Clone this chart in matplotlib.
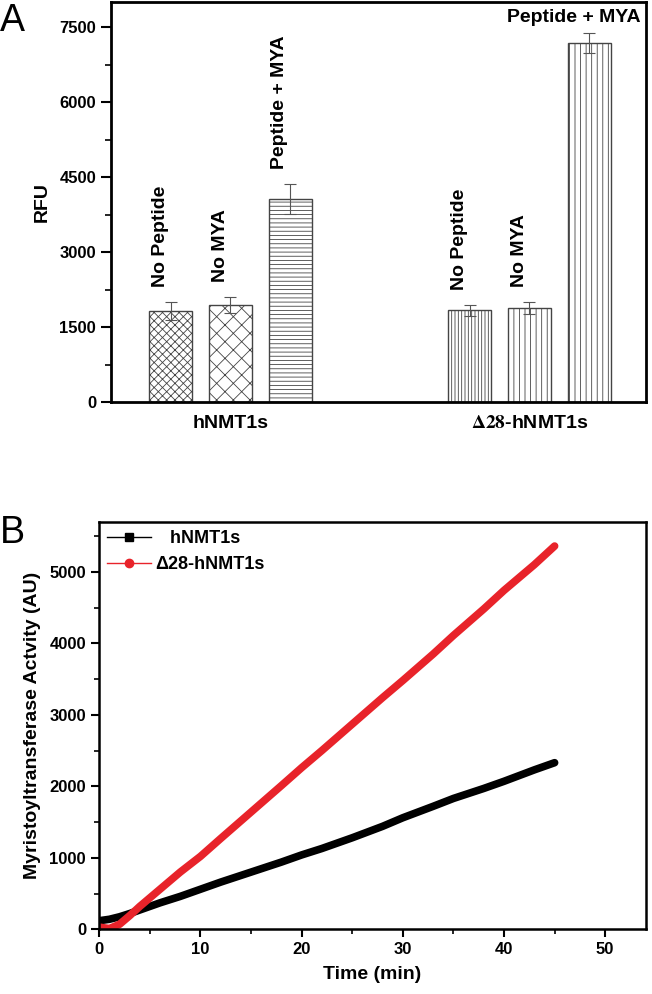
import matplotlib
matplotlib.use("Agg")
import matplotlib.pyplot as plt
from matplotlib.lines import Line2D
from matplotlib.ticker import MultipleLocator

plt.rcParams['font.family'] = ['Liberation Sans', 'DejaVu Sans']
plt.rcParams['font.weight'] = 'bold'
plt.rcParams['axes.labelweight'] = 'bold'
plt.rcParams['mathtext.fontset'] = 'stix'
plt.rcParams['hatch.linewidth'] = 0.6

# ---- panel A data ----
bar_pos = [0, 1, 2, 5, 6, 7]
rfu = [1823, 1943, 4065, 1837, 1877, 7180]
rfu_err = [180, 160, 305, 105, 120, 195]
bar_labels = ['No Peptide', 'No MYA', 'Peptide + MYA',
              'No Peptide', 'No MYA', 'Peptide + MYA']
bar_hatch = ['xxxx', 'xx', '----', '|||||', '|||', '|||']
group_pos = [1, 6]
group_labels = ['hNMT1s', r'$\Delta$$\mathrm{28}$-hNMT1s']

# ---- panel B data ----
time_min = [0, 1, 2, 3, 4, 5, 6, 8, 10, 12, 15, 18, 20, 22, 25, 28, 30,
            33, 35, 38, 40, 43, 45]
act_wt = [120, 140, 175, 220, 270, 320, 370, 460, 560, 660, 800, 940, 1040,
          1130, 1280, 1440, 1560, 1720, 1830, 1970, 2070, 2230, 2330]
act_d28 = [30, 10, 70, 190, 320, 440, 560, 800, 1020, 1270, 1640, 2010, 2260,
           2500, 2870, 3240, 3480, 3850, 4110, 4480, 4740, 5100, 5360]

fig = plt.figure(figsize=(6.52, 9.94), dpi=100)

# ================= A =================
axA = fig.add_axes([0.1698, 0.5953, 0.8210, 0.4027])
bars = axA.bar(bar_pos, rfu, width=0.72, color='white', edgecolor='#444',
               linewidth=1, zorder=2)
for b, h in zip(bars, bar_hatch):
    b.set_hatch(h)
axA.errorbar(bar_pos, rfu, yerr=rfu_err, fmt='none', ecolor='#555',
             elinewidth=0.8, capsize=4, capthick=0.8, zorder=3)

for x, v, e, lab in zip(bar_pos, rfu, rfu_err, bar_labels):
    top = v + e + 300
    if top > 6000:
        # no room above the tall bar: write it flat
        axA.text(x - 0.25, v + e + 150, lab, ha='center', va='bottom',
                 fontsize=14)
    else:
        axA.text(x - 0.17, top, lab, rotation=90, ha='center', va='bottom',
                 fontsize=14)

axA.set_xlim(-1, 7.95)
axA.set_ylim(0, 8000)
axA.set_yticks([0, 1500, 3000, 4500, 6000, 7500])
axA.yaxis.set_minor_locator(MultipleLocator(750))
axA.set_xticks(group_pos)
axA.set_xticklabels(group_labels, fontsize=14)
axA.tick_params(axis='x', length=0, pad=9)
axA.tick_params(axis='y', which='major', direction='out', length=7, width=1.5,
                labelsize=12)
axA.tick_params(axis='y', which='minor', direction='out', length=4, width=1.2)
axA.set_ylabel('RFU', fontsize=14, labelpad=6)
for s in axA.spines.values():
    s.set_linewidth(2)

# ================= B =================
axB = fig.add_axes([0.1523, 0.0651, 0.838, 0.41])
axB.plot(time_min, act_wt, color='black', lw=5.5, solid_capstyle='round',
         solid_joinstyle='round')
axB.plot(time_min, act_d28, color='#e8232a', lw=5.5, solid_capstyle='round',
         solid_joinstyle='round')

axB.set_xlim(0, 54)
axB.set_ylim(0, 5700)
axB.xaxis.set_major_locator(MultipleLocator(10))
axB.xaxis.set_minor_locator(MultipleLocator(5))
axB.yaxis.set_major_locator(MultipleLocator(1000))
axB.yaxis.set_minor_locator(MultipleLocator(500))
axB.tick_params(which='major', direction='out', length=6, width=1.5,
                labelsize=12)
axB.tick_params(which='minor', direction='out', length=3.5, width=1.2)
axB.set_xlabel('Time (min)', fontsize=14, labelpad=6)
axB.set_ylabel('Myristoyltransferase Actvity (AU)', fontsize=14, labelpad=6)
for s in axB.spines.values():
    s.set_linewidth(1.8)

handles = [
    Line2D([], [], color='black', lw=1, marker='s', markersize=6),
    Line2D([], [], color='#e8232a', lw=1, marker='o', markersize=6),
]
axB.legend(handles, ['   hNMT1s', '\u039428-hNMT1s'], loc='upper left',
           frameon=False, fontsize=13, handlelength=2.4, handletextpad=0.25,
           labelspacing=0.5, borderaxespad=0.1, borderpad=0.35)

fig.text(0.0, 0.997, 'A', fontsize=27, fontweight='normal', va='top')
fig.text(0.0, 0.482, 'B', fontsize=27, fontweight='normal', va='top')

fig.savefig('out.png', dpi=100)
